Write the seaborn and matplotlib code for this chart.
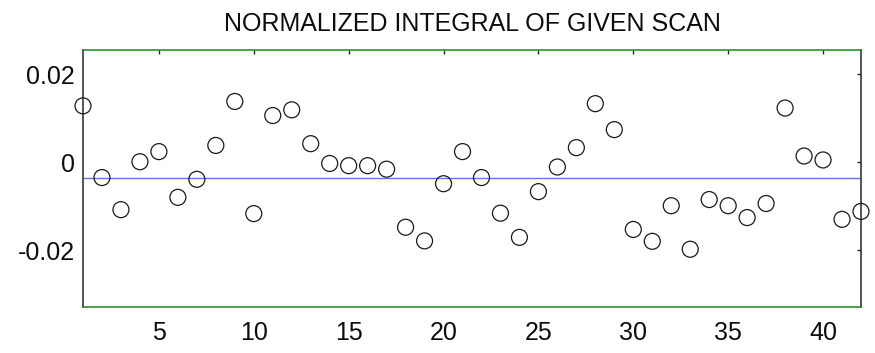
import matplotlib
matplotlib.use("Agg")
import matplotlib.pyplot as plt
import seaborn as sns
import pandas as pd

scan_index = list(range(1, 43))
integral = [0.0128, -0.0035, -0.0108, 0.0001, 0.0024, -0.0080, -0.0039, 0.0038, 0.0138, -0.0117,
            0.0106, 0.0119, 0.0042, -0.0003, -0.0008, -0.0008, -0.0016, -0.0148, -0.0179, -0.0049,
            0.0024, -0.0035, -0.0116, -0.0171, -0.0067, -0.0011, 0.0033, 0.0133, 0.0074, -0.0153,
            -0.0180, -0.0099, -0.0198, -0.0085, -0.0099, -0.0126, -0.0094, 0.0123, 0.0014, 0.0005,
            -0.0130, -0.0112]
mean_level = -0.0035
x_ticks = [5, 10, 15, 20, 25, 30, 35, 40]
y_ticks = [-0.02, 0, 0.02]
y_tick_labels = ["-0.02", "0", "0.02"]
title = "NORMALIZED INTEGRAL OF GIVEN SCAN"

sns.set_style("white")
plt.rcParams['font.family'] = ['Liberation Sans', 'DejaVu Sans']

df = pd.DataFrame({"scan": scan_index, "value": integral})

fig = plt.figure(figsize=(8.75, 3.53), dpi=100)
ax = fig.add_axes([83/875, 1 - 307.3/353, (861 - 83)/875, (307.3 - 50)/353])

ax.axhline(mean_level, color='#6e6ef5', lw=1.0, zorder=1)
sns.scatterplot(data=df, x="scan", y="value", ax=ax, marker='o', s=11.5**2,
                facecolors='none', edgecolor='#1a1a1a', linewidth=0.9, zorder=3,
                clip_on=False, legend=False)

ax.set_xlim(1, 42)
ax.set_ylim(-0.033, 0.0255)
ax.set_xticks(x_ticks)
ax.set_xticklabels([str(t) for t in x_ticks])
ax.set_yticks(y_ticks)
ax.set_yticklabels(y_tick_labels)
ax.set_xlabel("")
ax.set_ylabel("")

ax.tick_params(axis='both', which='both', direction='in', length=3, width=1,
               color='#262626', labelsize=18, top=True, right=True,
               labelcolor='#0d0d0d')
ax.tick_params(axis='x', pad=10)
ax.tick_params(axis='y', pad=6)

for side in ['left', 'right']:
    ax.spines[side].set_color('#262626')
    ax.spines[side].set_linewidth(1.1)
    ax.spines[side].set_visible(True)
for side in ['top', 'bottom']:
    ax.spines[side].set_color('#1a8c1a')
    ax.spines[side].set_linewidth(1.1)
    ax.spines[side].set_visible(True)

ax.set_title(title, fontsize=18, color='#0d0d0d', pad=14)

fig.savefig("out.png", dpi=100)
